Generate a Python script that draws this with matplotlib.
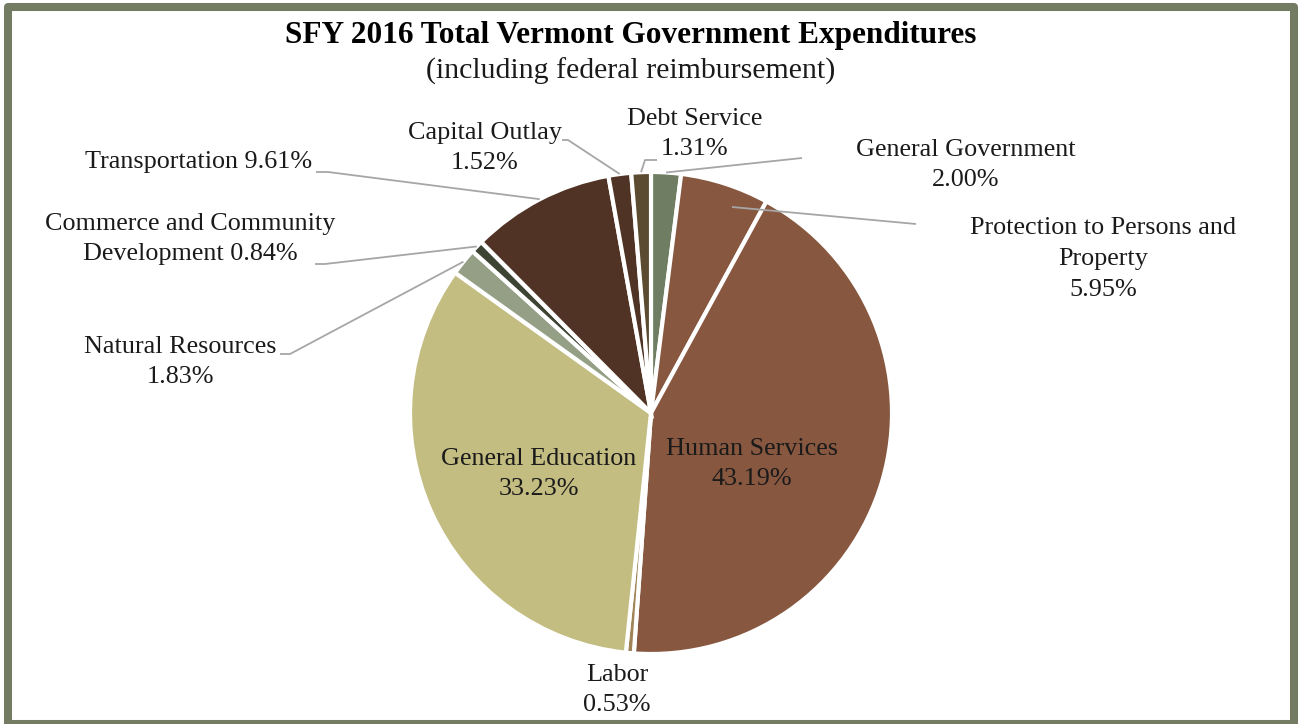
import numpy as np
import matplotlib
matplotlib.use("Agg")
import matplotlib.pyplot as plt
from matplotlib.patches import Rectangle

categories = ["General Government", "Protection to Persons and Property", "Human Services",
              "Labor", "General Education", "Natural Resources",
              "Commerce and Community Development", "Transportation",
              "Capital Outlay", "Debt Service"]
values = [2.00, 5.95, 43.19, 0.53, 33.23, 1.83, 0.84, 9.61, 1.52, 1.31]
label_texts = ["General Government\n2.00%", "Protection to Persons and\nProperty\n5.95%",
               "Human Services\n43.19%", "Labor\n0.53%", "General Education\n33.23%",
               "Natural Resources\n1.83%", "Commerce and Community\nDevelopment 0.84%",
               "Transportation 9.61%", "Capital Outlay\n1.52%", "Debt Service\n1.31%"]
colors = ["#6F7E62", "#875740", "#875740", "#A08458", "#C4BD82", "#949F86",
          "#3D4433", "#513325", "#4F3325", "#5B4B30"]

W, H = 1299, 724
fig = plt.figure(figsize=(W / 100, H / 100), dpi=100)
ax = fig.add_axes([0, 0, 1, 1])
plt.rcParams['font.family'] = ['Liberation Serif', 'DejaVu Serif']

cx, cy, R = 651, H - 413, 241
wedges, _ = ax.pie(values, colors=colors, startangle=90, counterclock=False,
                   center=(cx, cy), radius=R,
                   wedgeprops=dict(edgecolor="white", linewidth=3))
ax.set_xlim(0, W)
ax.set_ylim(0, H)
ax.set_aspect("equal")
ax.axis("off")

def py(y):
    return H - y

# label positions (pixel coords, text centre)
label_pos = {
    0: (966, 165), 1: (1103, 259), 2: (752, 464), 3: (617, 690),
    4: (539, 474), 5: (180, 362), 6: (190, 239), 7: (199, 162),
    8: (485, 148), 9: (695, 134),
}
fs = 18.8
for i, txt in enumerate(label_texts):
    x, y = label_pos[i]
    ax.text(x, py(y), txt, ha="center", va="center", fontsize=fs, color="#1a1a1a",
            linespacing=1.5)

def anchor(i, rfrac=1.0):
    w = wedges[i]
    th = np.deg2rad((w.theta1 + w.theta2) / 2)
    return cx + R * rfrac * np.cos(th), cy + R * rfrac * np.sin(th)

lc = "#A6A6A6"
leaders = {
    0: [(802, 158)],
    1: [(916, 224)],
    5: [(290, 354), (280, 354)],
    6: [(325, 264), (315, 264)],
    7: [(328, 172), (316, 172)],
    8: [(568, 140), (562, 140)],
    9: [(645, 160), (657, 160)],
}
for i, pts in leaders.items():
    if i == 1:
        ax_, ay_ = cx + 81, cy + 206
    else:
        ax_, ay_ = anchor(i)
    xs = [ax_] + [p[0] for p in pts]
    ys = [ay_] + [py(p[1]) for p in pts]
    ax.plot(xs, ys, color=lc, lw=1.3, solid_capstyle="butt")

ax.text(631, py(36), "SFY 2016 Total Vermont Government Expenditures", ha="center",
        va="center", fontsize=22.5, fontweight="bold", color="black")
ax.text(631, py(71), "(including federal reimbursement)", ha="center", va="center",
        fontsize=21.5, color="#1a1a1a")

ax.add_patch(Rectangle((8, 0), 1286, py(6.5), fill=False, edgecolor="#737C63",
                       linewidth=5.8, joinstyle="round"))

fig.savefig("out.png", dpi=100)
